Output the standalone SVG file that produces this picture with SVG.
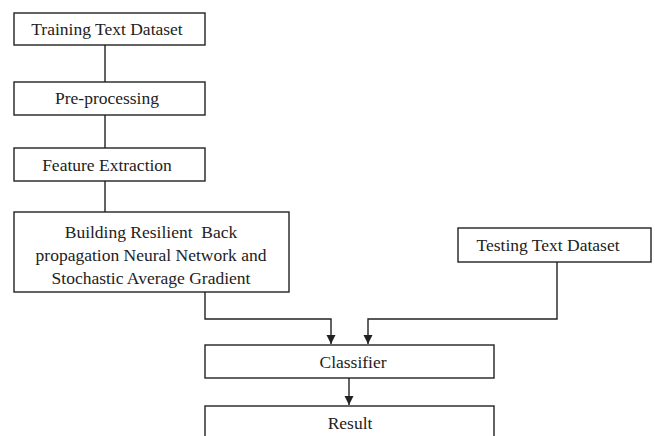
<svg xmlns="http://www.w3.org/2000/svg" width="655" height="436" viewBox="0 0 655 436">
<style>
.box{fill:#fff;stroke:#222;stroke-width:1.4}
.t{font-family:"Liberation Serif","Times New Roman",serif;font-size:17.5px;fill:#222;text-anchor:middle}
.c{fill:none;stroke:#222;stroke-width:1.4}
</style>
<defs>
<marker id="ah" markerWidth="9" markerHeight="11" refX="9" refY="5" orient="auto" markerUnits="userSpaceOnUse">
<path d="M0,0.5 L9,5 L0,9.5 Z" fill="#222"/>
</marker>
</defs>
<rect width="655" height="436" fill="#fff"/>
<g id="connectors">
<path class="c" d="M105,45 V82"/>
<path class="c" d="M105,115 V148"/>
<path class="c" d="M105,181 V212"/>
<path class="c" d="M205,292 V319 H331 V344" marker-end="url(#ah)"/>
<path class="c" d="M557,262 V319 H368 V344" marker-end="url(#ah)"/>
<path class="c" d="M349,378 V405" marker-end="url(#ah)"/>
</g>
<g id="training">
<rect class="box" x="14" y="13" width="191" height="32"/>
<text class="t" x="107" y="35">Training Text Dataset</text>
</g>
<g id="preprocessing">
<rect class="box" x="14" y="82" width="191" height="33"/>
<text class="t" x="107" y="104">Pre-processing</text>
</g>
<g id="feature">
<rect class="box" x="14" y="148" width="191" height="33"/>
<text class="t" x="107" y="171">Feature Extraction</text>
</g>
<g id="building">
<rect class="box" x="14" y="212" width="275" height="80"/>
<text class="t" x="151" y="238" xml:space="preserve">Building Resilient  Back</text>
<text class="t" x="151" y="261">propagation Neural Network and</text>
<text class="t" x="151" y="284">Stochastic Average Gradient</text>
</g>
<g id="testing">
<rect class="box" x="458" y="228" width="193" height="34"/>
<text class="t" x="548" y="251">Testing Text Dataset</text>
</g>
<g id="classifier">
<rect class="box" x="205" y="345" width="289" height="33"/>
<text class="t" x="353" y="368">Classifier</text>
</g>
<g id="result">
<rect class="box" x="205" y="406" width="289" height="40"/>
<text class="t" x="350" y="429">Result</text>
</g>
</svg>
